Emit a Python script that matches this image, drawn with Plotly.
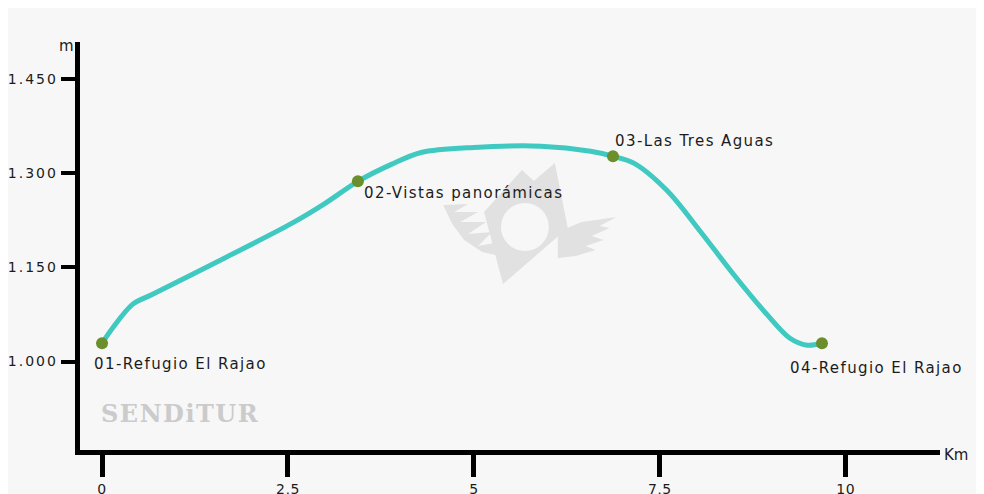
import plotly.graph_objects as go

# ---- data ----
profile_km = [0, 0.14, 0.41, 0.68, 1.65, 2.55, 3.0, 3.44, 3.89, 4.29, 5.0, 5.9, 6.57, 6.87, 7.15, 7.6, 8.04, 8.49, 8.94, 9.25, 9.48, 9.68]
profile_m = [1029, 1053, 1091, 1107, 1165, 1220, 1252, 1287, 1314, 1333, 1341, 1343, 1335, 1327, 1316, 1272, 1208, 1139, 1075, 1037, 1026, 1029]

wp_km = [0, 3.44, 6.87, 9.68]
wp_m = [1029, 1287, 1327, 1029]
wp_names = ["01-Refugio El Rajao", "02-Vistas panorámicas", "03-Las Tres Aguas", "04-Refugio El Rajao"]

x_ticks = [0, 2.5, 5, 7.5, 10]
x_ticktext = ["0", "2,5", "5", "7,5", "10"]
y_ticks = [1000, 1150, 1300, 1450]
y_ticktext = ["1.000", "1.150", "1.300", "1.450"]

W, H = 984, 494
OFF = 8  # page body margin
FONT = "DejaVu Sans"
TXT = "#1c1c1c"

def spaced(s, ls):
    return f'<span style="letter-spacing:{ls}px">{s}</span>'

fig = go.Figure()
fig.add_trace(go.Scatter(x=profile_km, y=profile_m, mode="lines",
                         line=dict(color="#3fc9c1", width=5, shape="spline", smoothing=0.9),
                         hoverinfo="skip", showlegend=False))
fig.add_trace(go.Scatter(x=wp_km, y=wp_m, mode="markers",
                         marker=dict(color="#6b8f2c", size=12),
                         text=wp_names, hoverinfo="text", showlegend=False))

# waypoint labels (pixel offsets from the marker)
offsets = [(-10, 21), (4, 12), (0, -15), (-34, 25)]
for x, y, name, (dx, dy) in zip(wp_km, wp_m, wp_names, offsets):
    fig.add_annotation(x=x, y=y, text=spaced(name, 1.4), showarrow=False, xanchor="left", yanchor="middle",
                       xshift=dx, yshift=-dy, font=dict(family=FONT, size=15, color=TXT))

def P(x, y):
    return ((x - OFF) / W, 1 - (y - OFF) / H)

def path(pts):
    p = [P(x, y) for x, y in pts]
    return "M " + " L ".join(f"{a:.4f},{b:.4f}" for a, b in p) + " Z"

logo_col = "#e1e1e1"
shapes = []
# watermark logo (decoration), page pixel coordinates
diamond = [(520, 170), (532, 181), (553, 163), (566, 228), (501, 284), (482, 212)]
lwing = [(441, 205), (466, 204), (452, 212), (476, 212), (458, 222), (484, 222), (466, 234), (490, 232),
         (476, 246), (497, 242), (498, 256), (480, 252), (462, 240), (450, 224)]
rwing = [(556, 232), (580, 222), (615, 217), (598, 226), (608, 228), (590, 236), (602, 240), (584, 246),
         (594, 250), (574, 256), (556, 258)]
for poly in (diamond, lwing, rwing):
    shapes.append(dict(type="path", xref="paper", yref="paper", path=path(poly),
                       fillcolor=logo_col, line=dict(width=0), layer="below"))
cx, cy, r = 523, 227, 24
x0, y1 = P(cx - r, cy - r)
x1, y0 = P(cx + r, cy + r)
shapes.append(dict(type="circle", xref="paper", yref="paper", x0=x0, x1=x1, y0=y0, y1=y1,
                   fillcolor="#f7f7f7", line=dict(width=0), layer="below"))

fig.update_layout(
    width=W, height=H,
    margin=dict(l=0, r=0, t=0, b=0),
    paper_bgcolor="#f7f7f7", plot_bgcolor="rgba(0,0,0,0)",
    font=dict(family=FONT, size=14, color=TXT),
    shapes=shapes,
    xaxis=dict(domain=[(76 - OFF) / W, (940 - OFF) / W], range=[-0.30, 11.27],
               tickvals=x_ticks, ticktext=[spaced(t, 0.5) for t in x_ticktext],
               showline=True, linecolor="black", linewidth=5,
               ticks="outside", ticklen=22, tickwidth=5, tickcolor="black",
               showgrid=False, zeroline=False, tickfont=dict(size=14, family=FONT, color=TXT)),
    yaxis=dict(domain=[(H - (450 - OFF)) / H, (H - (42 - OFF)) / H], range=[859, 1509],
               tickvals=y_ticks, ticktext=[spaced(t, 2) for t in y_ticktext],
               showline=True, linecolor="black", linewidth=5,
               ticks="outside", ticklen=14, tickwidth=4, tickcolor="black",
               showgrid=False, zeroline=False, tickfont=dict(size=14, family=FONT, color=TXT)),
)

mx, my = P(63, 46)
fig.add_annotation(xref="paper", yref="paper", x=mx, y=my, text="m", showarrow=False,
                   xanchor="center", yanchor="middle",
                   font=dict(family=FONT, size=15, color=TXT))
kx, ky = P(956, 455)
fig.add_annotation(xref="paper", yref="paper", x=kx, y=ky, text="Km", showarrow=False,
                   xanchor="center", yanchor="middle",
                   font=dict(family=FONT, size=15, color=TXT))
sx, sy = P(95, 413)
fig.add_annotation(xref="paper", yref="paper", x=sx, y=sy, text=spaced("<b>SENDiTUR</b>", 1.5),
                   showarrow=False, xanchor="left", yanchor="middle",
                   font=dict(family="DejaVu Serif", size=24, color="#cbcbcb"))

fig.write_html("out.html")
